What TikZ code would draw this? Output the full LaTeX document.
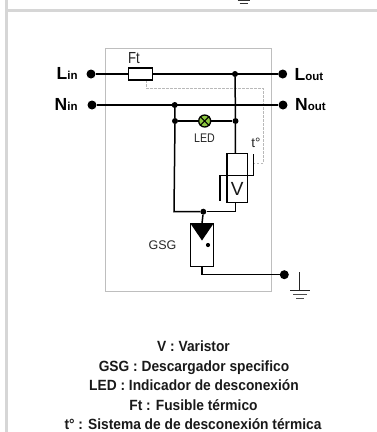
\documentclass[tikz,border=0pt]{standalone}
\usepackage{fontspec}
\setmainfont{Liberation Sans}
\definecolor{framegray}{RGB}{214,214,214}
\definecolor{boxgray}{RGB}{190,190,190}
\definecolor{ledgreen}{RGB}{140,198,63}
\definecolor{dashgray}{RGB}{185,185,185}
\tikzset{
  wire/.style={line width=1.5pt,black},
  term/.style={circle,fill=black,inner sep=0pt,minimum size=9pt},
  junct/.style={circle,fill=black,inner sep=0pt,minimum size=6pt},
  part/.style={draw=black,line width=1.5pt,fill=white,inner sep=0pt},
  termlabel/.style={inner sep=0pt,font=\bfseries,text=black},
  smalllabel/.style={inner sep=0pt,font=\fontsize{12.5}{14}\selectfont,text=black!85},
  legend/.style={inner sep=0pt,font=\bfseries\fontsize{14.8}{16}\selectfont,text=black!90,anchor=base,xscale=.93},
}
\newcommand{\termtext}[2]{{\fontsize{17.5}{19}\selectfont #1}{\fontsize{11.5}{13}\selectfont #2}}
\begin{document}
\begin{tikzpicture}[x=1pt,y=-1pt]
\useasboundingbox (0,0) rectangle (377,432);
% frame
\fill[framegray] (5,0) rectangle (8,432);
\fill[framegray] (8,9) rectangle (377,12);
% cut-off ground at top
\draw[black!80,line width=0.9pt] (237.5,0.4) -- (249.5,0.4);
\draw[black!80,line width=0.9pt] (239.5,3.2) -- (247.5,3.2);
% housing
\draw[boxgray,line width=0.7pt] (105.7,48.3) rectangle (271,291);
% thermal link
\coordinate (d1) at (146,80);
\coordinate (d2) at (146,88);
\coordinate (d3) at (263,88);
\coordinate (d4) at (263,163);
\coordinate (d5) at (253,163);
\draw[dashgray,line width=0.6pt,dash pattern=on 2.5pt off 1.5pt] (d1) -- (d2) -- (d3) -- (d4) -- (d5);
% terminals
\node[term] (lin) at (91,74) {};
\node[term] (lout) at (282.7,74) {};
\node[term] (nin) at (92,105) {};
\node[term] (nout) at (283,105) {};
\node[term] (gnd) at (284.3,274.7) {};
% junctions
\node[junct] (jl) at (235,74) {};
\node[junct] (jn) at (174.7,105) {};
\node[junct] (jll) at (175,121) {};
\node[junct] (jlr) at (235.5,121) {};
\node[junct] (jb) at (203.3,211.7) {};
% wires
\draw[wire] (lin) -- (lout);
\draw[wire] (nin) -- (nout);
\draw[wire] (jl) -- (jlr);
\draw[wire] (jn) -- (jll);
\draw[wire] (jll) -- (jlr);
\coordinate (vtop) at (235.3,154);
\coordinate (vbot) at (235.3,202);
\draw[wire] (jlr) -- (vtop);
\draw[wire] (vbot) -- (235.3,211.7) -- (jb);
\draw[wire] (jll) -- (174,211.7) -- (jb);
\draw[wire] (jb) -- (202,223.5);
\draw[wire] (202,266) -- (202,274.7) -- (gnd);
% fuse
\node[part,minimum width=24pt,minimum height=12pt] (fuse) at (140.3,74) {};
\node[inner sep=0pt,font=\fontsize{16}{18}\selectfont,text=black!85,xscale=.82] (ft) at (134,58.5) {Ft};
% led
\node[circle,draw=black,line width=1.3pt,fill=ledgreen,inner sep=0pt,minimum size=12pt] (led) at (204.7,121) {};
\draw[black,line width=1pt] (led.north west) -- (led.south east) (led.north east) -- (led.south west);
\node[smalllabel,xscale=.85] (ledl) at (204.5,138.5) {LED};
\node[inner sep=0pt,font=\fontsize{13.5}{15}\selectfont,text=black!85] (tdeg) at (256,142.5) {t\textdegree};
% varistor
\node[part,minimum width=20.3pt,minimum height=48.6pt] (var) at (237.2,178) {};
\draw[wire] (227,175.3) -- (247.3,175.3);
\node[inner sep=0pt,font=\fontsize{19}{21}\selectfont,text=black!90] (vl) at (237.2,189) {V};
\coordinate (s1) at (253.3,154);
\coordinate (s2) at (253.3,175.3);
\coordinate (s3) at (220,175.3);
\coordinate (s4) at (220,201.3);
\draw[wire] (s1) -- (s2) -- (s3) -- (s4);
% GSG
\node[draw=black,line width=0.9pt,fill=white,inner sep=0pt,minimum width=23.4pt,minimum height=43pt] (gsg) at (202,244.8) {};
\fill[black] (190.3,223.3) -- (213.7,223.3) -- (202,240.5) -- cycle;
\fill[black] (208,245) circle (2.1pt);
\node[smalllabel] (gsgl) at (162.5,245) {GSG};
% ground
\coordinate (g0) at (299.7,272);
\coordinate (g1) at (299.7,290);
\draw[black!85,line width=1pt] (g0) -- (g1);
\draw[black!85,line width=1pt] (290,290) -- (309.5,290);
\draw[black!70,line width=1pt] (293,294.5) -- (306.5,294.5);
\draw[black!70,line width=1pt] (296,298.5) -- (303.5,298.5);
% terminal labels
\node[termlabel,anchor=base west] (llin) at (56.5,79.5) {\termtext{L}{in}};
\node[termlabel,anchor=base west] (lnin) at (54.5,110) {\termtext{N}{in}};
\node[termlabel,anchor=base west] (llout) at (294.5,80.5) {\termtext{L}{out}};
\node[termlabel,anchor=base west] (lnout) at (295,110) {\termtext{N}{out}};
% legend
\node[legend] (t1) at (193.5,351.5) {V : Varistor};
\node[legend] (t2) at (194,371) {GSG : Descargador specifico};
\node[legend] (t3) at (194,390.5) {LED : Indicador de desconexión};
\node[legend] (t4) at (193.5,410.5) {Ft : Fusible térmico};
\node[legend] (t5) at (193,429.5) {t° : Sistema de de desconexión térmica};
\end{tikzpicture}
\end{document}
